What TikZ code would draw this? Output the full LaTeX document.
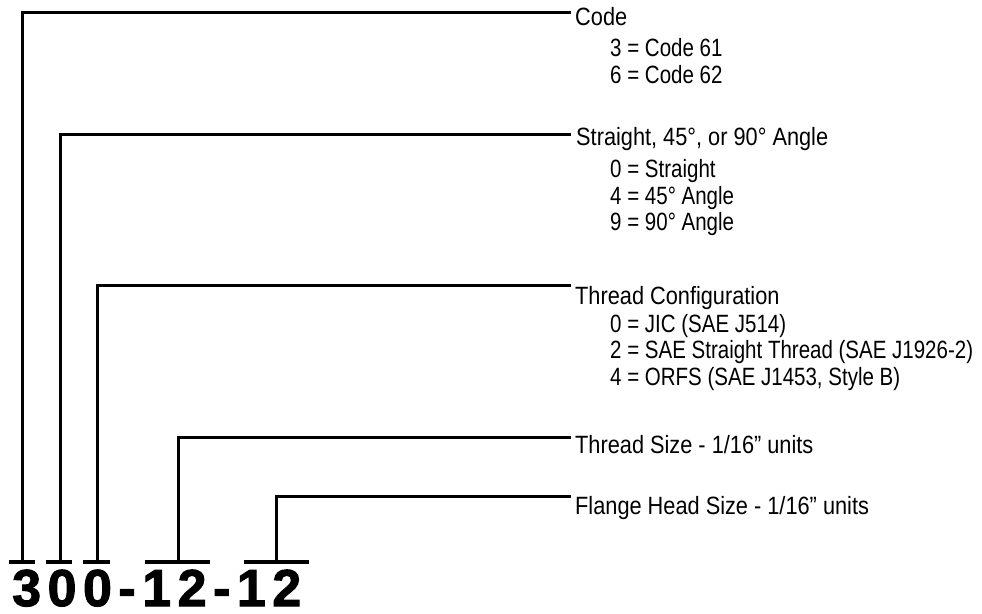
\documentclass[tikz,border=0pt]{standalone}
\usepackage{fontspec}
\usepackage{tikz}
\newfontfamily\headfont{Liberation Sans}[FakeStretch=0.87]
\newfontfamily\entryfont{Liberation Sans}[FakeStretch=0.82]
\newfontfamily\codefont{Liberation Sans}[LetterSpace=12.5, BoldFeatures={FakeBold=2}]
\tikzset{lead/.style={line width=3pt}, bar/.style={line width=4.5pt},
  head/.style={font=\headfont\fontsize{25}{25}\selectfont, anchor=base west, inner sep=0pt},
  entry/.style={head, font=\entryfont\fontsize{25}{25}\selectfont}}
\begin{document}
\begin{tikzpicture}[x=1pt, y=-1pt]
\useasboundingbox (0,0) rectangle (982,613);
% bars under the code digits
\coordinate (b1) at (22,562);
\coordinate (b2) at (60,562);
\coordinate (b3) at (97,562);
\coordinate (b4) at (178,562);
\coordinate (b5) at (276.5,562);
\draw[bar] (9,562) -- (35,562) (46,562) -- (72,562) (83,562) -- (110,562)
  (145,562) -- (210,562) (244,562) -- (309,562);
% ends of the leaders
\coordinate (e1) at (571,12);
\coordinate (e2) at (571,134.5);
\coordinate (e3) at (571,285);
\coordinate (e4) at (571,437.5);
\coordinate (e5) at (571,496.5);
\foreach \i in {1,...,5} \draw[lead] (b\i) |- (e\i);
% labels
\node[head] (code) at (575,25) {Code};
\node[entry] (code1) at (610,56) {3 = Code 61};
\node[entry] (code2) at (610,83) {6 = Code 62};
\node[head] (angle) at (576,145) {Straight, 45°, or 90° Angle};
\node[entry] (angle1) at (610,177) {0 = Straight};
\node[entry] (angle2) at (610,204) {4 = 45° Angle};
\node[entry] (angle3) at (610,230) {9 = 90° Angle};
\node[head] (thread) at (575,304) {Thread Configuration};
\node[entry] (thread1) at (610,332) {0 = JIC (SAE J514)};
\node[entry] (thread2) at (610,358) {2 = SAE Straight Thread (SAE J1926-2)};
\node[entry] (thread3) at (610,385) {4 = ORFS (SAE J1453, Style B)};
\node[head] (tsize) at (575,453) {Thread Size - 1/16” units};
\node[head] (fsize) at (575,514) {Flange Head Size - 1/16” units};
\node[anchor=base west, inner sep=0pt, font=\codefont\bfseries\fontsize{52}{52}\selectfont]
  (number) at (12,606) {300-12-12};
\end{tikzpicture}
\end{document}
